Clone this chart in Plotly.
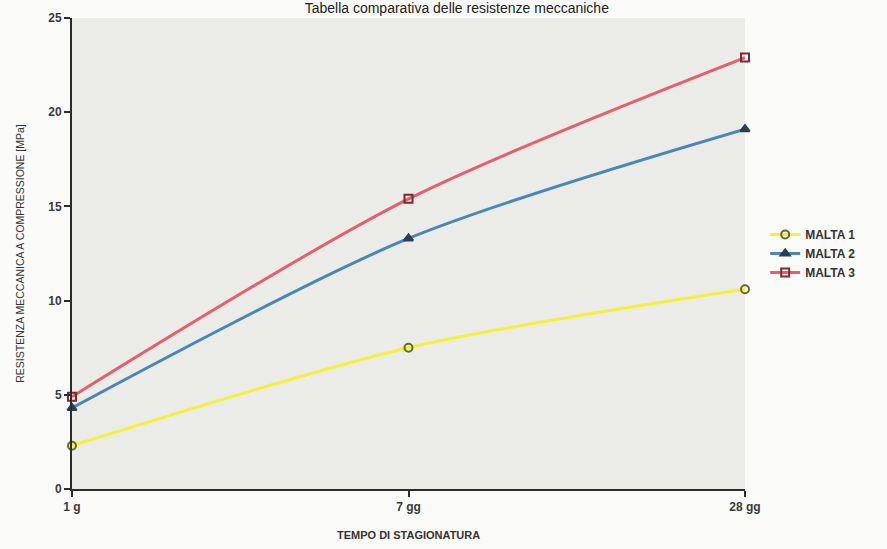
import plotly.graph_objects as go

# Curing times and compressive strength (MPa) for the three mortars
tempi = ["1 g", "7 gg", "28 gg"]
malta_1 = [2.3, 7.5, 10.6]
malta_2 = [4.3, 13.3, 19.1]
malta_3 = [4.9, 15.4, 22.9]
y_ticks = [0, 5, 10, 15, 20, 25]

x_pos = list(range(len(tempi)))

series = [
    ("MALTA 1", malta_1, "#f4f03a", "circle-open", "#6b6a1e"),
    ("MALTA 2", malta_2, "#4a86b6", "triangle-up", "#2a3f55"),
    ("MALTA 3", malta_3, "#e3606e", "square-open", "#7a2a32"),
]

fig = go.Figure()
for name, vals, col, sym, mcol in series:
    fig.add_trace(go.Scatter(
        x=x_pos, y=vals, name=name, mode="lines+markers",
        line=dict(color=col, width=3, shape="spline", smoothing=0.8),
        marker=dict(symbol=sym, size=8, color=mcol,
                    line=dict(color=mcol, width=2)),
        cliponaxis=False,
    ))

axis_font = dict(family="Liberation Sans, Arial", size=12, color="#3a3a3a",
                 weight="bold")

fig.update_layout(
    width=887, height=549,
    paper_bgcolor="#fafaf8",
    plot_bgcolor="#ebebe8",
    margin=dict(l=72, r=142, t=18, b=60),
    title=dict(
        text="Tabella comparativa delle resistenze meccaniche",
        x=0.515, xanchor="center", y=1.0, yanchor="top", yref="container",
        pad=dict(t=3, b=0),
        font=dict(family="Liberation Sans, Arial", size=14, color="#222222"),
    ),
    showlegend=True,
    legend=dict(
        x=1.03, y=0.5, xanchor="left", yanchor="middle",
        font=dict(family="Liberation Sans, Arial", size=12, color="#333333",
                  weight="bold"),
        bgcolor="rgba(0,0,0,0)", tracegroupgap=0, itemwidth=30,
    ),
    xaxis=dict(
        range=[0, 2], tickvals=x_pos, ticktext=tempi,
        showgrid=False, zeroline=False, automargin=False,
        showline=True, linecolor="#2b2b2b", linewidth=2,
        ticks="outside", ticklen=6, tickwidth=2, tickcolor="#2b2b2b",
        tickfont=axis_font,
    ),
    yaxis=dict(
        range=[0, 25], tickvals=y_ticks,
        showgrid=False, zeroline=False, automargin=False,
        showline=True, linecolor="#2b2b2b", linewidth=2,
        ticks="outside", ticklen=6, tickwidth=2, tickcolor="#2b2b2b",
        tickfont=axis_font,
        title=dict(text="RESISTENZA MECCANICA A COMPRESSIONE [MPa]", standoff=22,
                   font=dict(family="Liberation Sans, Arial", size=10.5, color="#333333")),
    ),
    annotations=[dict(
        text="<b>TEMPO DI STAGIONATURA</b>", xref="paper", yref="paper",
        x=0.5, y=0, yshift=-46, xanchor="center", yanchor="middle",
        showarrow=False,
        font=dict(family="Liberation Sans, Arial", size=11, color="#333333"),
    )],
)

fig.write_html("out.html")
